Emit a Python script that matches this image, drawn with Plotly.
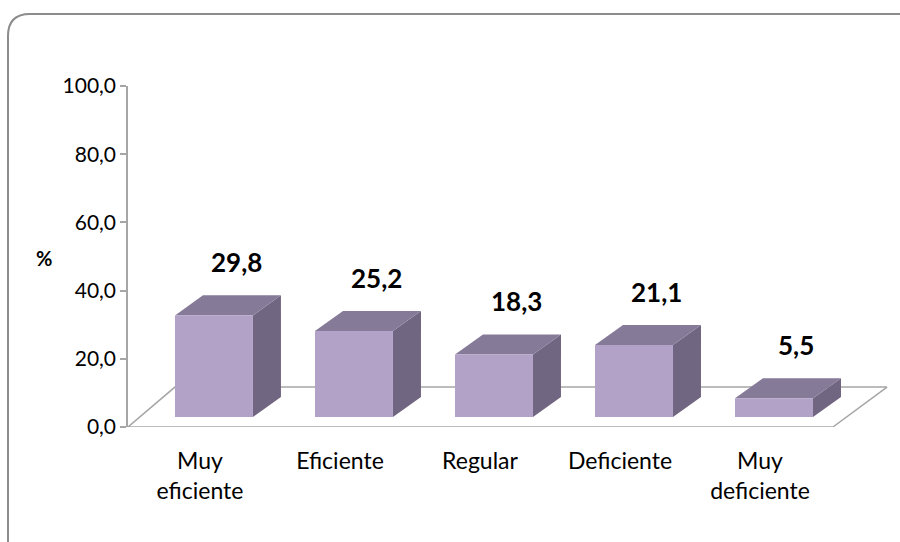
import plotly.graph_objects as go

# ------------------------------------------
# DATA
# ------------------------------------------
CATEGORIAS = ["Muy<br>eficiente", "Eficiente", "Regular", "Deficiente", "Muy<br>deficiente"]
VALORES = [29.8, 25.2, 18.3, 21.1, 5.5]
Y_TICKS = [0, 20, 40, 60, 80, 100]

# ------------------------------------------
# STYLE / GEOMETRIE (Pseudo-3D)
# ------------------------------------------
FRONT = "#B3A2C7"
TOP = "#857A98"
SIDE = "#716681"
GRID = "#A6A6A6"
FONT = "Lato"

W = 900
H = 542
ML, MR, MT, MB = 128, 10, 86, 115
PW = W - ML - MR
PH = H - MT - MB

BAR_W = 0.557       # breite Frontfläche (Kategorien)
BASE = 2.93         # Boden der Säulen
DX, DY = 0.20, 5.9  # Tiefe der Säulen
X_MIN, X_MAX = -0.614, (W - MR - 214) / 140
# Boden: vorne links/rechts, hinten links/rechts (Kategorien), Tiefe in %
FLOOR_FL, FLOOR_FR = X_MIN, 4.421
FLOOR_BL, FLOOR_BR = -0.279, 4.807
FLOOR_DY = 11.7

x = list(range(len(VALORES)))


def poly(xs, ys, color, **kw):
    return go.Scatter(x=xs + xs[:1], y=ys + ys[:1], mode="lines", fill="toself", fillcolor=color,
                      line=dict(width=0), showlegend=False, **kw)


fig = go.Figure()

# Boden
fig.add_trace(go.Scatter(
    x=[FLOOR_FL, FLOOR_FR, FLOOR_BR, FLOOR_BL, FLOOR_FL],
    y=[0, 0, FLOOR_DY, FLOOR_DY, 0],
    mode="lines", fill="toself", fillcolor="white",
    line=dict(color=GRID, width=1.5), hoverinfo="skip", showlegend=False))

# Säulen: Seite, Deckel, Front
for xi, v in zip(x, VALORES):
    top = BASE + v
    l, r = xi - BAR_W / 2, xi + BAR_W / 2
    fig.add_trace(poly([r, r + DX, r + DX, r], [BASE, BASE + DY, top + DY, top], SIDE, hoverinfo="skip"))
    fig.add_trace(poly([l, r, r + DX, l + DX], [top, top, top + DY, top + DY], TOP, hoverinfo="skip"))
    fig.add_trace(poly([l, r, r, l], [BASE, BASE, top, top], FRONT,
                       hoveron="fills", text=f"{v:.1f}".replace(".", ","), hoverinfo="text"))

# Datenbeschriftung
for xi, v in zip(x, VALORES):
    fig.add_annotation(x=xi + 0.16, y=v + 18.6, text=f"<b>{v:.1f}</b>".replace(".", ","),
                       showarrow=False, font=dict(size=26, color="black", family=FONT))

# "%" Achsentitel
fig.add_annotation(xref="paper", yref="paper", x=(44 - ML) / PW, y=(427 - 258) / PH,
                   xanchor="center", text="<b>%</b>", showarrow=False,
                   font=dict(size=20, color="black", family=FONT))


# Rahmen mit abgerundeten Ecken
def px(u):
    return (u - ML) / PW


def py(v):
    return (H - MB - v) / PH


R = 22
x0, y0, x1, y1 = 8, 14, 925, 565
path = (f"M {px(x0 + R)},{py(y0)} L {px(x1 - R)},{py(y0)} "
        f"Q {px(x1)},{py(y0)} {px(x1)},{py(y0 + R)} L {px(x1)},{py(y1 - R)} "
        f"Q {px(x1)},{py(y1)} {px(x1 - R)},{py(y1)} L {px(x0 + R)},{py(y1)} "
        f"Q {px(x0)},{py(y1)} {px(x0)},{py(y1 - R)} L {px(x0)},{py(y0 + R)} "
        f"Q {px(x0)},{py(y0)} {px(x0 + R)},{py(y0)} Z")
fig.add_shape(type="path", path=path, xref="paper", yref="paper",
              line=dict(color="#8C8C8C", width=2), layer="below")

fig.update_layout(
    width=W, height=H,
    margin=dict(l=ML, r=MR, t=MT, b=MB),
    plot_bgcolor="white", paper_bgcolor="white",
    separators=",.",
    font=dict(family=FONT, size=21, color="black"),
    xaxis=dict(range=[X_MIN, X_MAX], tickvals=[xi - 0.1 for xi in x], ticktext=CATEGORIAS,
               showgrid=False, zeroline=False, showline=False, ticks="", ticklabelstandoff=18,
               tickfont=dict(size=23, family=FONT), fixedrange=True),
    yaxis=dict(range=[0, 100], tickvals=Y_TICKS, tickformat=".1f", showgrid=False, zeroline=False,
               showline=True, linecolor=GRID, linewidth=1.5, ticks="outside", ticklen=6,
               tickcolor=GRID, tickwidth=1.5, tickfont=dict(size=21, family=FONT), fixedrange=True),
)

fig.write_html("out.html", config={"displayModeBar": False},
               post_script="document.body.style.margin = '0';")
